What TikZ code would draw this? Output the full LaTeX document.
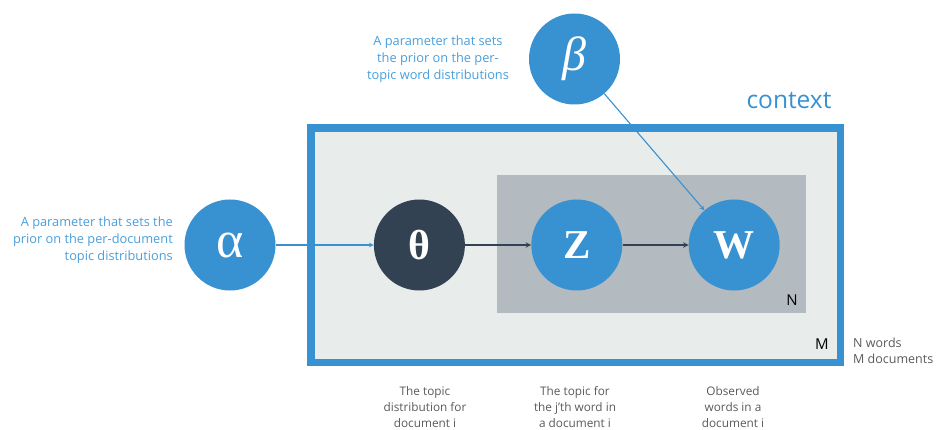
\documentclass[tikz,border=0pt]{standalone}
\usepackage{fontspec}
\setmainfont{Open Sans}
\newfontfamily\symfont{Liberation Serif}
\usetikzlibrary{arrows,positioning}
\definecolor{ldablue}{HTML}{3891D1}
\definecolor{ldadark}{HTML}{334253}
\definecolor{platelight}{HTML}{E8ECEB}
\definecolor{platedark}{HTML}{B3BAC0}
\definecolor{notetext}{HTML}{4A9EDA}
\definecolor{graytext}{HTML}{5A5A5A}

\begin{document}
\begin{tikzpicture}[x=1pt, y=-1pt,
    var/.style={circle, fill=ldablue, minimum size=91pt, inner sep=0pt, text=white},
    hidden/.style={var, fill=ldadark},
    plate/.style={rectangle, inner sep=0pt},
    arrow/.style={->, >=stealth, line width=1.4pt, draw=ldadark},
    prior/.style={->, >=stealth, line width=1.1pt, draw=ldablue},
    note/.style={font=\fontsize{12.8}{17}\selectfont, text=notetext, inner sep=0pt},
    caption/.style={font=\fontsize{11.8}{16}\selectfont, text=graytext, align=center, inner sep=0pt},
    platelabel/.style={font=\fontsize{15}{15}\selectfont, inner sep=0pt}
]
\useasboundingbox (0,0) rectangle (936,430);

% plates
\node[plate, draw=ldablue, line width=7.5pt, fill=platelight, minimum width=529.5pt, minimum height=234.5pt] (plateM) at (575.75,245.25) {};
\node[plate, fill=platedark, minimum width=309pt, minimum height=138pt] (plateN) at (651.5,244) {};
\node[platelabel] (labelN) at (792,300) {N};
\node[platelabel] (labelM) at (822,344) {M};
\node[font=\fontsize{24.5}{24.5}\selectfont, text=ldablue, inner sep=0pt] (context) at (789,101) {context};

\node[var] (alpha) at (230,245) {\symfont\fontsize{52}{52}\selectfont α};
\node[hidden, right=98pt of alpha] (theta) {\symfont\bfseries\fontsize{42}{42}\selectfont θ};
\node[var, right=66pt of theta] (z) {\symfont\bfseries\fontsize{41}{41}\selectfont Z};
\node[var, right=66pt of z] (w) {\symfont\bfseries\fontsize{41}{41}\selectfont W};
\node[var] (beta) at (574.5,59) {\symfont\itshape\fontsize{48}{48}\selectfont β};

\draw[prior] (alpha) -- (theta);
\draw[arrow] (theta) -- (z);
\draw[arrow] (z) -- (w);
\draw[prior] (beta) -- (w);

\node[note, align=right, anchor=east] (alphanote) at (173,240) {A parameter that sets the\\prior on the per-document\\topic distributions};
\node[note, align=center] (betanote) at (438,59) {A parameter that sets\\the prior on the per-\\topic word distributions};

\node[caption] (thetacap) at (425,407) {The topic\\distribution for\\document i};
\node[caption] (zcap) at (575,407) {The topic for\\the j'th word in\\a document i};
\node[caption] (wcap) at (733,407) {Observed\\words in a\\document i};
\node[caption, align=left, anchor=west, font=\fontsize{12.5}{16}\selectfont] (platecap) at (853,351) {N words\\M documents};
\end{tikzpicture}
\end{document}
